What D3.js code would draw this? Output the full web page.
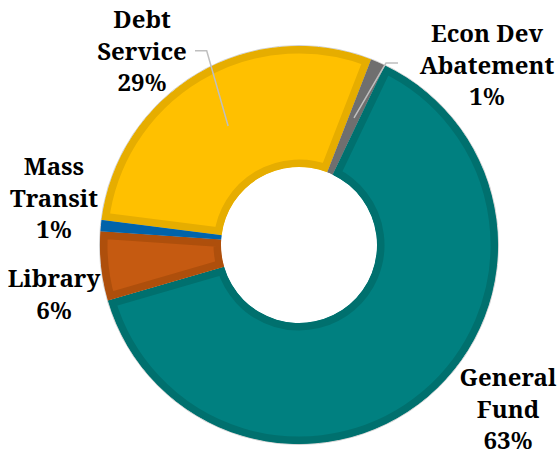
<!DOCTYPE html>
<html>
<head>
<meta charset="utf-8">
<script src="https://cdn.jsdelivr.net/npm/d3@7"></script>
<style>
  body { margin: 0; background: #fff; }
</style>
</head>
<body>
<svg id="donut" width="558" height="456"></svg>
<script>
// data, in the order the slices are drawn (clockwise)
var categories = ["Debt Service", "Econ Dev Abatement", "General Fund", "Library", "Mass Transit"];
var shares = [28.9, 1.2, 63.4, 5.6, 0.9];
var pctLabels = ["29%", "1%", "63%", "6%", "1%"];
var labelLines = [["Debt", "Service"], ["Econ Dev", "Abatement"], ["General", "Fund"], ["Library"], ["Mass", "Transit"]];

// colours: fill + darker inner edge
var fills = ["#FFC000", "#808080", "#008080", "#C55A11", "#0070C0"];
var edges = ["#E6AD00", "#6F6F6F", "#00706E", "#AE4F0C", "#0063AA"];

// label anchor (centre x, first baseline)
var labelPos = [[142, 28], [487, 42], [508, 386], [54, 287], [54, 175]];

var width = 558, height = 456;
var cx = 299, cy = 245, outerR = 199, innerR = 78;
var lineH = 31.5;

var svg = d3.select("#donut");
var g = svg.append("g").attr("transform", "translate(" + cx + "," + cy + ")");

var start = 277.2 * Math.PI / 180;
var pie = d3.pie().sort(null).value(function(d){ return d; })
    .startAngle(start).endAngle(start + 2 * Math.PI);
var arcs = pie(shares);

var arc = d3.arc().innerRadius(innerR).outerRadius(outerR);

// faint outline round the ring
g.append("circle").attr("r", outerR + 0.5)
    .attr("fill", "none").attr("stroke", "#cfcfcf").attr("stroke-width", 1);

var defs = svg.append("defs");
defs.selectAll("clipPath")
    .data(arcs)
    .enter()
    .append("clipPath")
    .attr("id", function(d, i){ return "clip" + i; })
    .append("path")
    .attr("d", arc);

g.selectAll("path.slice")
    .data(arcs)
    .enter()
    .append("path")
    .attr("class", "slice")
    .attr("d", arc)
    .attr("clip-path", function(d, i){ return "url(#clip" + i + ")"; })
    .style("fill", function(d, i){ return fills[i]; })
    .style("stroke", function(d, i){ return edges[i]; })
    .style("stroke-width", 15);

// leader lines for Debt Service and Econ Dev
var leaders = [
    {i: 0, elbow: [206.7, 50.7], end: [195, 50.7]},
    {i: 1, elbow: [386, 63], end: [398, 63]}
];
leaders.forEach(function(l){
    var c = arc.centroid(arcs[l.i]);
    var pts = [[c[0] + cx, c[1] + cy], l.elbow, l.end];
    svg.append("path")
        .attr("d", d3.line()(pts))
        .attr("fill", "none")
        .attr("stroke", "#BFBFBF")
        .attr("stroke-width", 1.5);
});

// labels
var lab = svg.selectAll("text.lbl")
    .data(categories)
    .enter()
    .append("text")
    .attr("class", "lbl")
    .attr("text-anchor", "middle")
    .attr("font-family", "'Noto Serif', 'Liberation Serif', serif")
    .attr("font-weight", "bold")
    .attr("font-size", 24)
    .style("fill", "#000");

lab.each(function(d, i){
    var t = d3.select(this);
    var lines = labelLines[i].concat([pctLabels[i]]);
    lines.forEach(function(s, k){
        t.append("tspan")
            .attr("x", labelPos[i][0])
            .attr("y", labelPos[i][1] + k * lineH)
            .text(s);
    });
});
</script>
</body>
</html>
